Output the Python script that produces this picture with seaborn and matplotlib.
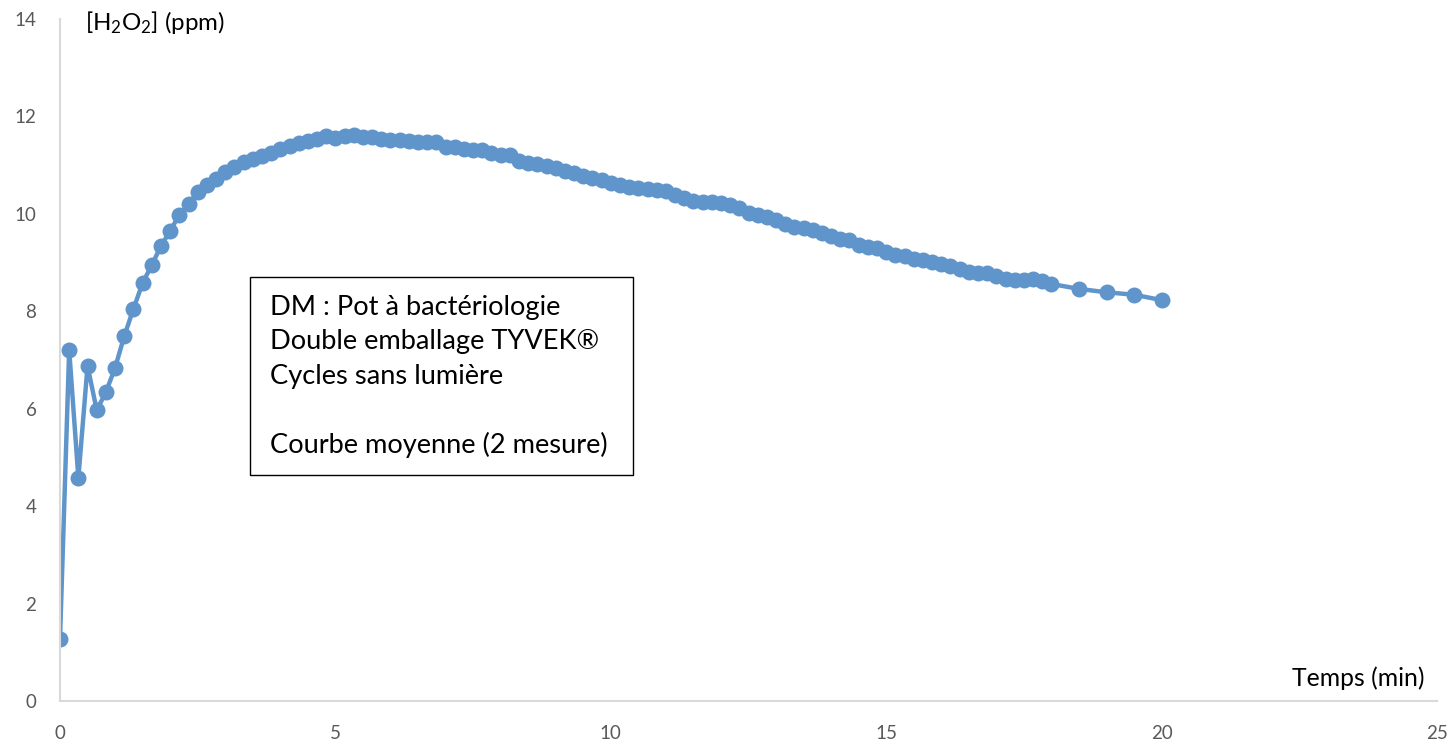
import matplotlib
matplotlib.use("Agg")
import matplotlib.pyplot as plt
import seaborn as sns
import pandas as pd
from matplotlib.patches import Rectangle

# Time (seconds) of each measurement
time_s = [0, 10, 20, 30, 40, 50, 60, 70, 80, 90,
          100, 110, 120, 130, 140, 150, 160, 170, 180, 190,
          200, 210, 220, 230, 240, 250, 260, 270, 280, 290,
          300, 310, 320, 330, 340, 350, 360, 370, 380, 390,
          400, 410, 420, 430, 440, 450, 460, 470, 480, 490,
          500, 510, 520, 530, 540, 550, 560, 570, 580, 590,
          600, 610, 620, 630, 640, 650, 660, 670, 680, 690,
          700, 710, 720, 730, 740, 750, 760, 770, 780, 790,
          800, 810, 820, 830, 840, 850, 860, 870, 880, 890,
          900, 910, 920, 930, 940, 950, 960, 970, 980, 990,
          1000, 1010, 1020, 1030, 1040, 1050, 1060, 1070, 1080,
          1110, 1140, 1170, 1200]

# Mean H2O2 concentration (ppm)
h2o2_ppm = [1.27, 7.21, 4.58, 6.88, 5.97, 6.34, 6.84, 7.49, 8.05, 8.58,
            8.95, 9.34, 9.65, 9.98, 10.20, 10.45, 10.59, 10.72, 10.86, 10.96,
            11.07, 11.13, 11.19, 11.25, 11.33, 11.39, 11.46, 11.50, 11.54, 11.60,
            11.56, 11.60, 11.62, 11.58, 11.58, 11.54, 11.52, 11.52, 11.50, 11.48,
            11.48, 11.48, 11.37, 11.37, 11.33, 11.31, 11.31, 11.25, 11.21, 11.21,
            11.09, 11.05, 11.02, 10.98, 10.94, 10.88, 10.84, 10.78, 10.74, 10.70,
            10.63, 10.59, 10.55, 10.53, 10.51, 10.49, 10.47, 10.39, 10.33, 10.27,
            10.25, 10.25, 10.23, 10.19, 10.11, 10.02, 9.98, 9.94, 9.88, 9.79,
            9.73, 9.71, 9.67, 9.61, 9.55, 9.48, 9.46, 9.36, 9.32, 9.30,
            9.22, 9.16, 9.14, 9.08, 9.05, 9.01, 8.97, 8.93, 8.87, 8.81,
            8.79, 8.79, 8.73, 8.66, 8.64, 8.64, 8.66, 8.62, 8.56,
            8.46, 8.39, 8.34, 8.23]

x_ticks = [0, 5, 10, 15, 20, 25]
y_ticks = [0, 2, 4, 6, 8, 10, 12, 14]
x_title = "Temps (min)"
y_title = r"[H$_2$O$_2$] (ppm)"
box_lines = ["DM : Pot à bactériologie",
             "Double emballage TYVEK®",
             "Cycles sans lumière",
             "",
             "Courbe moyenne (2 mesure)"]

sns.set_style("white")
plt.rcParams["font.family"] = ["Lato", "DejaVu Sans"]
plt.rcParams["mathtext.fontset"] = "custom"
plt.rcParams["mathtext.rm"] = "Lato"
plt.rcParams["mathtext.it"] = "Lato"
plt.rcParams["mathtext.default"] = "rm"

df = pd.DataFrame({"t": [s / 60 for s in time_s], "c": h2o2_ppm})

fig = plt.figure(figsize=(14.52, 7.44), dpi=100)
ax = fig.add_axes([60 / 1452, 43 / 744, 1377 / 1452, 682 / 744])

color = "#5f95ca"
sns.lineplot(data=df, x="t", y="c", ax=ax, color=color, linewidth=3.2,
             marker="o", markersize=11.5, markeredgewidth=0,
             markerfacecolor=color, sort=False)

ax.set_xlim(0, 25)
ax.set_ylim(0, 14)
ax.set_xticks(x_ticks)
ax.set_yticks(y_ticks)
ax.set_xticklabels([str(v) for v in x_ticks])
ax.set_yticklabels([str(v) for v in y_ticks])
ax.tick_params(axis="both", length=0, labelsize=13.5, colors="#595959")
ax.tick_params(axis="x", pad=17)
ax.tick_params(axis="y", pad=17)
for s in ["top", "right"]:
    ax.spines[s].set_visible(False)
for s in ["left", "bottom"]:
    ax.spines[s].set_color("#d9d9d9")
    ax.spines[s].set_linewidth(1.5)
ax.set_xlabel("")
ax.set_ylabel("")
ax.grid(False)

fig.text(85 / 1452, 1 - 23 / 744, y_title, fontsize=17.3, color="black",
         ha="left", va="center")
fig.text(1425 / 1452, 1 - 678 / 744, x_title, fontsize=17.8, color="black",
         ha="right", va="center")

# annotation box
fig.patches.append(Rectangle((250 / 1452, 1 - 475 / 744), 383 / 1452, 198 / 744,
                             transform=fig.transFigure, fill=False,
                             edgecolor="black", linewidth=1.0))
for i, line in enumerate(box_lines):
    if line:
        fig.text(270 / 1452, 1 - (315 + 34.5 * i) / 744, line, fontsize=19.6,
                 color="black", ha="left", va="baseline")

fig.savefig("out.png", dpi=100, facecolor="white")
